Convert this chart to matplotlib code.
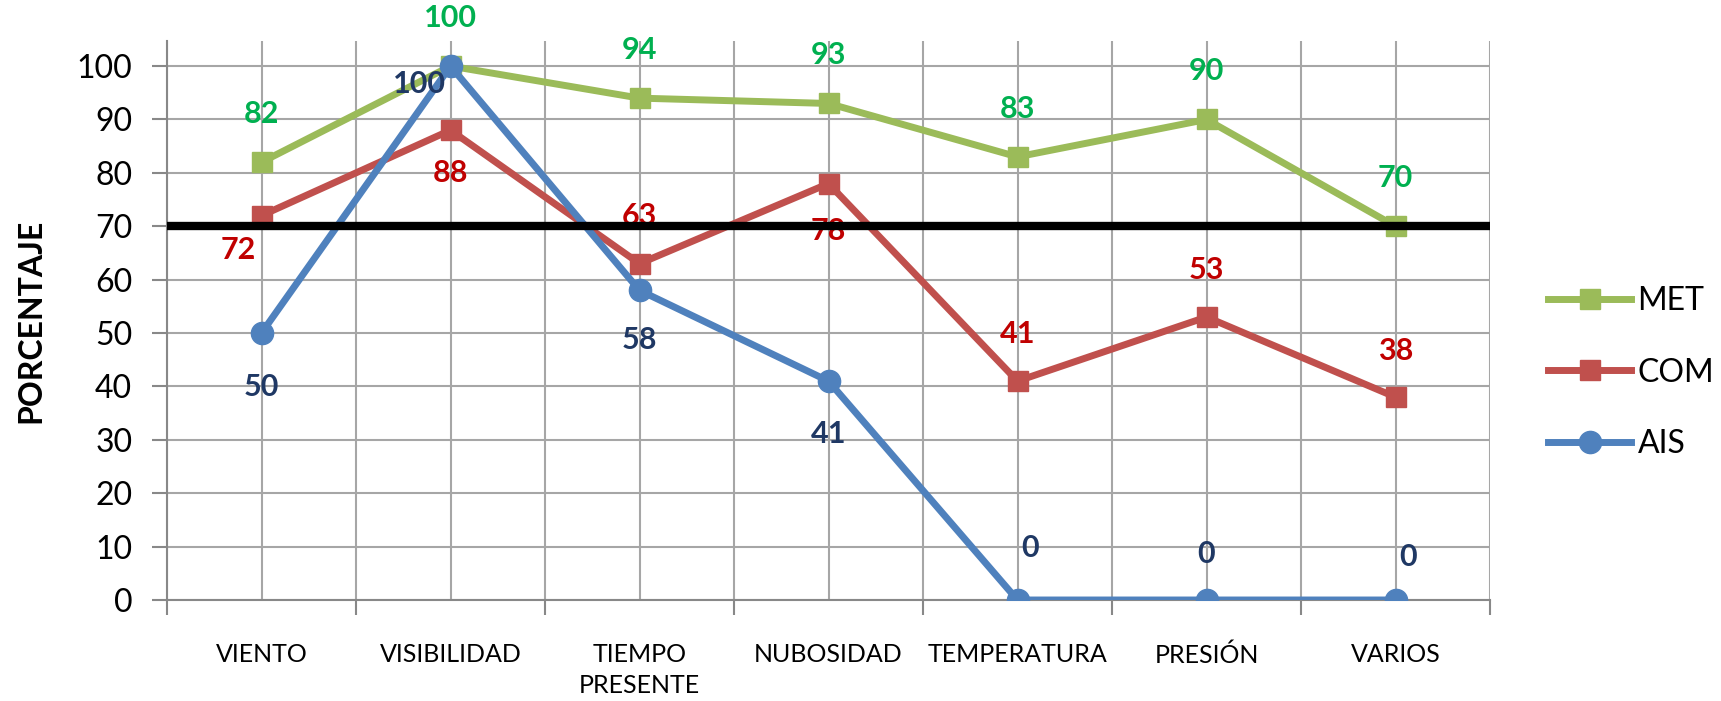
import matplotlib.pyplot as plt
import numpy as np

plt.rcParams["font.family"] = ["Lato", "DejaVu Sans"]

categorias = ["VIENTO", "VISIBILIDAD", "TIEMPO\nPRESENTE", "NUBOSIDAD",
              "TEMPERATURA", "PRESIÓN", "VARIOS"]
met = [82, 100, 94, 93, 83, 90, 70]
com = [72, 88, 63, 78, 41, 53, 38]
ais = [50, 100, 58, 41, 0, 0, 0]
umbral = 70

# estilo de cada serie: color línea, color etiqueta, marcador, tamaño
_MET = ("#9BBB59", "#00B050", "s", 14)
_COM = ("#C0504D", "#C00000", "s", 14)
_AIS = ("#4F81BD", "#1F3864", "o", 16)

# desplazamiento de las etiquetas (pixeles)
off_met = [(0, 48)] * 7
off_com = [(-23, -34), (0, -43), (0, 48), (0, -47), (0, 47), (0, 47), (0, 46)]
off_ais = [(0, -54), (-31, -18), (0, -50), (0, -53), (13, 52), (0, 46), (13, 43)]

fig = plt.figure(figsize=(17.21, 7.01), dpi=100)
ax = fig.add_axes([167 / 1721, 1 - 600 / 701, (1490 - 167) / 1721, (600 - 41) / 701])

x = np.arange(len(categorias))
handles = []
for vals, (lc, tc, mk, ms), offs, name in [
    (met, _MET, off_met, "MET"),
    (com, _COM, off_com, "COM"),
    (ais, _AIS, off_ais, "AIS"),
]:
    (h,) = ax.plot(x, vals, color=lc, lw=5, marker=mk, ms=ms, label=name,
                   zorder=3, solid_joinstyle="miter")
    handles.append(h)
    for xi, v, (dx, dy) in zip(x, vals, offs):
        ax.annotate(f"{v}", (xi, v), xytext=(dx, dy), textcoords="offset pixels",
                    ha="center", va="center", color=tc, fontsize=22,
                    fontweight="bold", zorder=4)

ax.axhline(umbral, color="black", lw=6, zorder=5)

ax.set_xlim(-0.5, len(categorias) - 0.5)
ax.set_ylim(0, 104.7)
ax.set_yticks(np.arange(0, 101, 10))
ax.set_xticks(x)
ax.set_xticklabels(categorias, fontsize=18, va="top", linespacing=1.4)
ax.set_xticks(np.arange(-0.5, len(categorias)), minor=True)

ax.grid(True, which="both", color="#A6A6A6", lw=1.5, zorder=0)
ax.set_axisbelow(True)
ax.tick_params(axis="x", which="major", length=0, pad=31)
ax.tick_params(axis="x", which="minor", length=11, width=1.5, color="#888888")
ax.tick_params(axis="y", length=11, width=1.5, color="#888888", pad=14, labelsize=23)

for s in ["top", "right"]:
    ax.spines[s].set_visible(False)
for s in ["left", "bottom"]:
    ax.spines[s].set_color("#888888")
    ax.spines[s].set_linewidth(1.5)

ax.set_ylabel("PORCENTAJE", fontsize=23, fontweight="bold")
ax.yaxis.set_label_coords(-0.092, 0.5)

fig.legend(handles=handles, loc="upper left",
           bbox_to_anchor=(1548 / 1721, 1 - 286 / 701), frameon=False,
           fontsize=23, handlelength=2.6, handletextpad=0.2, labelspacing=1.3,
           borderpad=0, borderaxespad=0)

fig.savefig("out.png", dpi=100)
